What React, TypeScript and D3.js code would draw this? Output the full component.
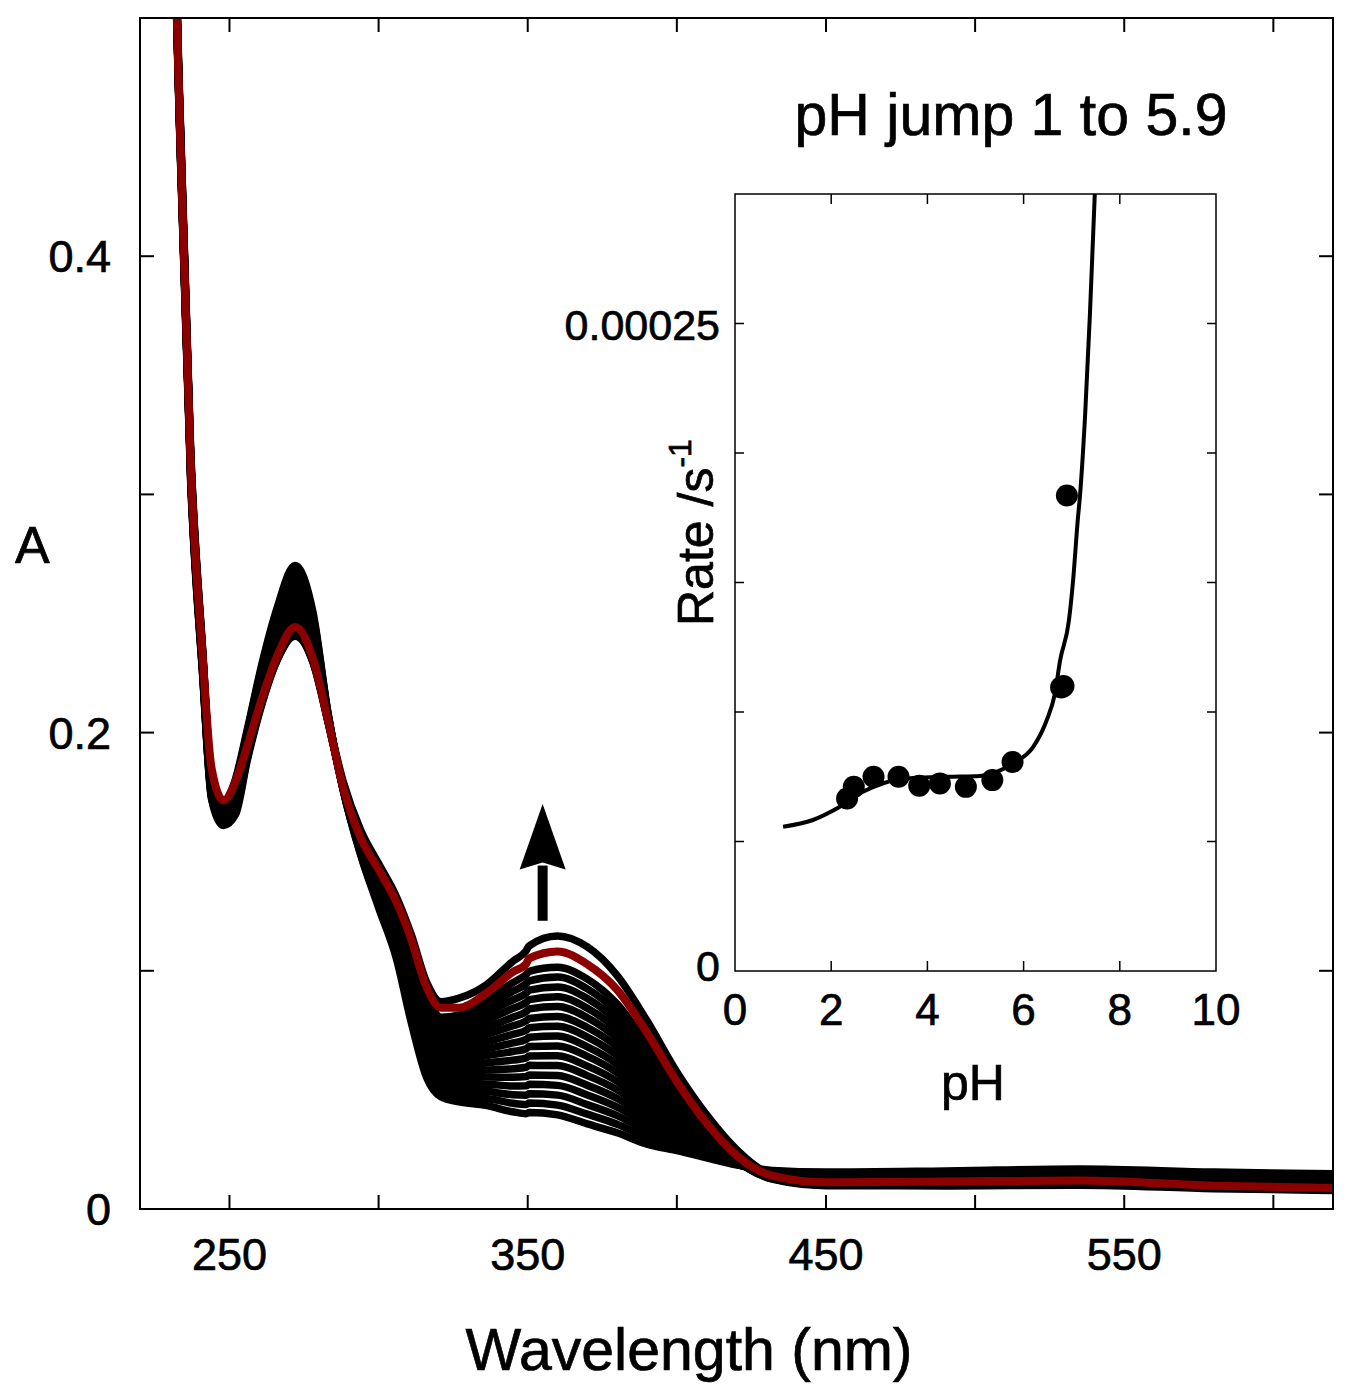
import { useEffect, useRef } from "react";
import * as d3 from "d3";

// wavelength grid of the scans (nm)
const wavelengths = [
  229, 233, 237, 241, 244, 248, 252, 256, 261, 266, 272, 278, 283, 288, 294,
  300, 306, 311, 316, 321, 327, 336, 345, 349.5, 350.5, 360, 370, 380, 390,
  400, 410, 420, 432, 450, 490, 535, 580, 620,
];

// one row per wavelength, one column per black scan
const scanTable = [
  [0.680, 0.678, 0.677, 0.675, 0.673, 0.672, 0.670, 0.668, 0.667, 0.665, 0.663, 0.662, 0.660, 0.658, 0.657, 0.655, 0.658],
  [0.478, 0.477, 0.476, 0.475, 0.475, 0.474, 0.473, 0.472, 0.471, 0.470, 0.469, 0.468, 0.468, 0.467, 0.466, 0.465, 0.468],
  [0.318, 0.317, 0.316, 0.315, 0.315, 0.314, 0.313, 0.312, 0.311, 0.310, 0.309, 0.308, 0.308, 0.307, 0.306, 0.305, 0.308],
  [0.235, 0.234, 0.234, 0.233, 0.232, 0.231, 0.231, 0.230, 0.229, 0.228, 0.228, 0.227, 0.226, 0.225, 0.225, 0.224, 0.227],
  [0.181, 0.1804, 0.1798, 0.1792, 0.1786, 0.178, 0.1774, 0.1768, 0.1762, 0.1756, 0.175, 0.1744, 0.1738, 0.1732, 0.1726, 0.172, 0.176],
  [0.1695, 0.1689, 0.1684, 0.1678, 0.1672, 0.1667, 0.1661, 0.1655, 0.165, 0.1644, 0.1638, 0.1633, 0.1627, 0.1621, 0.1616, 0.161, 0.1625],
  [0.1805, 0.1795, 0.1785, 0.1775, 0.1765, 0.1755, 0.1745, 0.1735, 0.1725, 0.1715, 0.1705, 0.1695, 0.1685, 0.1675, 0.1665, 0.1655, 0.168],
  [0.2015, 0.2006, 0.1998, 0.1989, 0.198, 0.1972, 0.1963, 0.1954, 0.1946, 0.1937, 0.1928, 0.192, 0.1911, 0.1902, 0.1894, 0.1885, 0.19],
  [0.2295, 0.2284, 0.2272, 0.2261, 0.225, 0.2238, 0.2227, 0.2216, 0.2204, 0.2193, 0.2182, 0.217, 0.2159, 0.2148, 0.2136, 0.2125, 0.213],
  [0.2525, 0.251, 0.2496, 0.2481, 0.2466, 0.2452, 0.2437, 0.2422, 0.2408, 0.2393, 0.2378, 0.2364, 0.2349, 0.2334, 0.232, 0.2305, 0.2305],
  [0.2702, 0.2682, 0.2662, 0.2643, 0.2623, 0.2603, 0.2583, 0.2563, 0.2544, 0.2524, 0.2504, 0.2484, 0.2464, 0.2445, 0.2425, 0.2405, 0.2415],
  [0.2505, 0.2491, 0.2477, 0.2463, 0.2449, 0.2435, 0.2421, 0.2407, 0.2393, 0.2379, 0.2365, 0.2351, 0.2337, 0.2323, 0.2309, 0.2295, 0.2295],
  [0.2085, 0.2082, 0.208, 0.2077, 0.2074, 0.2072, 0.2069, 0.2066, 0.2064, 0.2061, 0.2058, 0.2056, 0.2053, 0.205, 0.2048, 0.2045, 0.2055],
  [0.1765, 0.1766, 0.1768, 0.1769, 0.177, 0.1772, 0.1773, 0.1774, 0.1776, 0.1777, 0.1778, 0.178, 0.1781, 0.1782, 0.1784, 0.1785, 0.18],
  [0.1485, 0.149, 0.1496, 0.1501, 0.1506, 0.1512, 0.1517, 0.1522, 0.1528, 0.1533, 0.1538, 0.1544, 0.1549, 0.1554, 0.156, 0.1565, 0.159],
  [0.1265, 0.1275, 0.1284, 0.1294, 0.1304, 0.1313, 0.1323, 0.1333, 0.1342, 0.1352, 0.1362, 0.1371, 0.1381, 0.1391, 0.14, 0.141, 0.145],
  [0.105, 0.1065, 0.108, 0.1095, 0.111, 0.1125, 0.114, 0.1155, 0.117, 0.1185, 0.12, 0.1215, 0.123, 0.1245, 0.126, 0.1275, 0.131],
  [0.078, 0.0802, 0.0824, 0.0846, 0.0868, 0.089, 0.0912, 0.0934, 0.0956, 0.0978, 0.1, 0.1022, 0.1044, 0.1066, 0.1088, 0.111, 0.115],
  [0.0555, 0.0578, 0.0602, 0.0625, 0.0648, 0.0672, 0.0695, 0.0718, 0.0742, 0.0765, 0.0788, 0.0812, 0.0835, 0.0858, 0.0882, 0.0905, 0.0955],
  [0.047, 0.0492, 0.0515, 0.0537, 0.0559, 0.0582, 0.0604, 0.0626, 0.0649, 0.0671, 0.0693, 0.0716, 0.0738, 0.076, 0.0783, 0.0805, 0.087],
  [0.045, 0.0474, 0.0499, 0.0523, 0.0547, 0.0572, 0.0596, 0.062, 0.0645, 0.0669, 0.0693, 0.0718, 0.0742, 0.0766, 0.0791, 0.0815, 0.0885],
  [0.0435, 0.0465, 0.0494, 0.0524, 0.0554, 0.0583, 0.0613, 0.0643, 0.0672, 0.0702, 0.0732, 0.0761, 0.0791, 0.0821, 0.085, 0.088, 0.094],
  [0.0408, 0.0444, 0.048, 0.0516, 0.0553, 0.0589, 0.0625, 0.0661, 0.0697, 0.0733, 0.0769, 0.0805, 0.0842, 0.0878, 0.0914, 0.095, 0.104],
  [0.04, 0.0439, 0.0478, 0.0517, 0.0556, 0.0595, 0.0634, 0.0673, 0.0712, 0.0751, 0.079, 0.0829, 0.0868, 0.0907, 0.0946, 0.0985, 0.1085],
  [0.0405, 0.0445, 0.0484, 0.0524, 0.0563, 0.0603, 0.0642, 0.0682, 0.0721, 0.0761, 0.08, 0.084, 0.0879, 0.0919, 0.0958, 0.0998, 0.1105],
  [0.0395, 0.0436, 0.0478, 0.0519, 0.056, 0.0602, 0.0643, 0.0684, 0.0726, 0.0767, 0.0808, 0.085, 0.0891, 0.0932, 0.0974, 0.1015, 0.1146],
  [0.0357, 0.0398, 0.0438, 0.0479, 0.0519, 0.056, 0.06, 0.0641, 0.0681, 0.0722, 0.0762, 0.0803, 0.0843, 0.0884, 0.0924, 0.0965, 0.11],
  [0.032, 0.0356, 0.0392, 0.0428, 0.0464, 0.05, 0.0536, 0.0572, 0.0608, 0.0644, 0.068, 0.0716, 0.0752, 0.0788, 0.0824, 0.086, 0.098],
  [0.0272, 0.03, 0.0328, 0.0356, 0.0383, 0.0411, 0.0439, 0.0467, 0.0495, 0.0523, 0.0551, 0.0579, 0.0606, 0.0634, 0.0662, 0.069, 0.079],
  [0.0245, 0.0261, 0.0278, 0.0294, 0.031, 0.0327, 0.0343, 0.0359, 0.0376, 0.0392, 0.0408, 0.0425, 0.0441, 0.0457, 0.0474, 0.049, 0.0575],
  [0.0215, 0.0223, 0.023, 0.0238, 0.0246, 0.0253, 0.0261, 0.0269, 0.0276, 0.0284, 0.0292, 0.0299, 0.0307, 0.0315, 0.0322, 0.033, 0.0395],
  [0.0185, 0.0186, 0.0188, 0.0189, 0.019, 0.0192, 0.0193, 0.0194, 0.0196, 0.0197, 0.0198, 0.02, 0.0201, 0.0202, 0.0204, 0.0205, 0.025],
  [0.0162, 0.016, 0.0157, 0.0155, 0.0152, 0.015, 0.0147, 0.0145, 0.0142, 0.014, 0.0137, 0.0135, 0.0132, 0.013, 0.0127, 0.0125, 0.0145],
  [0.0155, 0.0151, 0.0147, 0.0144, 0.014, 0.0136, 0.0132, 0.0128, 0.0125, 0.0121, 0.0117, 0.0113, 0.0109, 0.0106, 0.0102, 0.0098, 0.0117],
  [0.016, 0.0156, 0.0152, 0.0147, 0.0143, 0.0139, 0.0135, 0.0131, 0.0126, 0.0122, 0.0118, 0.0114, 0.011, 0.0105, 0.0101, 0.0097, 0.0117],
  [0.0168, 0.0163, 0.0159, 0.0154, 0.015, 0.0145, 0.0141, 0.0136, 0.0132, 0.0127, 0.0123, 0.0118, 0.0114, 0.0109, 0.0105, 0.01, 0.0123],
  [0.0155, 0.015, 0.0146, 0.0141, 0.0136, 0.0132, 0.0127, 0.0122, 0.0118, 0.0113, 0.0108, 0.0104, 0.0099, 0.0094, 0.009, 0.0085, 0.0097],
  [0.0148, 0.0143, 0.0139, 0.0134, 0.0129, 0.0125, 0.012, 0.0115, 0.0111, 0.0106, 0.0101, 0.0097, 0.0092, 0.0087, 0.0083, 0.0078, 0.009],
];

// the red scan
const finalScan = [
  0.66, 0.471, 0.312, 0.232, 0.185, 0.1715, 0.1795, 0.1945, 0.2148, 0.2322,
  0.2443, 0.231, 0.2052, 0.1775, 0.1558, 0.1425, 0.1288, 0.113, 0.0933, 0.0845,
  0.0845, 0.0905, 0.0995, 0.103, 0.1052, 0.1081, 0.1027, 0.092, 0.074, 0.0534,
  0.036, 0.0225, 0.014, 0.0112, 0.0115, 0.012, 0.0098, 0.0088,
];

const xTicks = [250, 300, 350, 400, 450, 500, 550, 600];
const xTickLabels = [250, 350, 450, 550];
const yTicks = [0.1, 0.2, 0.3, 0.4];
const yTickLabels = [0, 0.2, 0.4];

// inset: measured rates
const phValues = [2.33, 2.47, 2.88, 3.4, 3.83, 4.26, 4.8, 5.35, 5.77, 6.78, 6.83, 6.9];
const rateValues = [
  6.66e-5, 7.11e-5, 7.5e-5, 7.5e-5, 7.15e-5, 7.24e-5, 7.11e-5, 7.37e-5, 8.07e-5,
  1.095e-4, 1.1e-4, 1.836e-4,
];
// inset: fitted curve
const fitPh = [1.0, 1.62, 2.18, 2.66, 3.08, 3.7, 4.41, 5.09, 5.78, 6.2, 6.48, 6.65, 6.76, 6.94, 7.03, 7.13, 7.17, 7.28, 7.38, 7.48];
const fitRate = [
  5.57e-5, 5.83e-5, 6.34e-5, 6.92e-5, 7.25e-5, 7.45e-5, 7.5e-5, 7.53e-5, 8.02e-5,
  8.65e-5, 9.68e-5, 1.07e-4, 1.2e-4, 1.35e-4, 1.51e-4, 1.75e-4, 1.83e-4, 2.15e-4,
  2.54e-4, 3.0e-4,
];
const phTicks = [0, 2, 4, 6, 8, 10];
const rateTicks = [5e-5, 1e-4, 1.5e-4, 2e-4, 2.5e-4];

const FONT = "'Liberation Sans', Arial, Helvetica, sans-serif";

export default function App() {
  const svgRef = useRef<SVGSVGElement>(null);

  useEffect(() => {
    if (!svgRef.current) return;
    const svg = d3.select(svgRef.current);
    svg.selectAll("*").remove();

    const left = 140, right = 1333, top = 18, bottom = 1209;
    const x = d3.scaleLinear().domain([220, 620]).range([left, right]);
    const y = d3.scaleLinear().domain([0, 0.5]).range([bottom, top]);

    svg.append("defs")
      .append("clipPath")
      .attr("id", "plot-clip")
      .append("rect")
      .attr("x", left)
      .attr("y", top)
      .attr("width", right - left)
      .attr("height", bottom - top);

    const plot = svg.append("g").attr("clip-path", "url(#plot-clip)");

    const line = d3
      .line<[number, number]>()
      .x(d => x(d[0]))
      .y(d => y(d[1]))
      .curve(d3.curveMonotoneX);

    const nScans = scanTable[0].length;
    for (let j = 0; j < nScans; j++) {
      const pts = wavelengths.map((w, k) => [w, scanTable[k][j]] as [number, number]);
      plot.append("path")
        .attr("d", line(pts))
        .attr("fill", "none")
        .attr("stroke", "#000")
        .attr("stroke-width", 7.5)
        .attr("stroke-linejoin", "round");
    }

    plot.append("path")
      .attr("d", line(wavelengths.map((w, k) => [w, finalScan[k]] as [number, number])))
      .attr("fill", "none")
      .attr("stroke", "#8c0000")
      .attr("stroke-width", 8)
      .attr("stroke-linejoin", "round");

    // frame
    svg.append("rect")
      .attr("x", left).attr("y", top)
      .attr("width", right - left).attr("height", bottom - top)
      .attr("fill", "none").attr("stroke", "#000").attr("stroke-width", 2);

    const tickLen = 14;
    xTicks.forEach(t => {
      svg.append("line").attr("x1", x(t)).attr("x2", x(t))
        .attr("y1", bottom).attr("y2", bottom - tickLen)
        .attr("stroke", "#000").attr("stroke-width", 2);
      svg.append("line").attr("x1", x(t)).attr("x2", x(t))
        .attr("y1", top).attr("y2", top + tickLen)
        .attr("stroke", "#000").attr("stroke-width", 2);
    });
    yTicks.forEach(t => {
      svg.append("line").attr("x1", left).attr("x2", left + tickLen)
        .attr("y1", y(t)).attr("y2", y(t))
        .attr("stroke", "#000").attr("stroke-width", 2);
      svg.append("line").attr("x1", right).attr("x2", right - tickLen)
        .attr("y1", y(t)).attr("y2", y(t))
        .attr("stroke", "#000").attr("stroke-width", 2);
    });

    const label = (sel: d3.Selection<SVGTextElement, unknown, null, undefined>, size: number) =>
      sel.style("font-family", FONT)
        .style("font-size", `${size}px`)
        .attr("fill", "#000")
        .attr("stroke", "#000")
        .attr("stroke-width", 0.7);

    xTickLabels.forEach(t => {
      label(svg.append("text").attr("x", x(t)).attr("y", 1270)
        .attr("text-anchor", "middle"), 45)
        .text(String(t));
    });
    yTickLabels.forEach(t => {
      label(svg.append("text").attr("x", 111).attr("y", y(t) + 16)
        .attr("text-anchor", "end"), 45)
        .text(String(t));
    });

    label(svg.append("text").attr("x", 689).attr("y", 1370)
      .attr("text-anchor", "middle"), 59)
      .text("Wavelength (nm)");
    label(svg.append("text").attr("x", 15).attr("y", 563), 52)
      .text("A");
    label(svg.append("text").attr("x", 1011).attr("y", 135)
      .attr("text-anchor", "middle"), 59)
      .text("pH jump 1 to 5.9");

    // arrow
    const ax = x(355);
    const aTail = y(0.121), aTip = y(0.170), aBase = y(0.1425);
    svg.append("rect")
      .attr("x", ax - 5).attr("y", aBase - 4)
      .attr("width", 10).attr("height", aTail - aBase + 4)
      .attr("fill", "#000");
    svg.append("path")
      .attr("d", `M${ax},${aTip} L${ax + 23},${aBase} L${ax},${aBase - 7} L${ax - 23},${aBase} Z`)
      .attr("fill", "#000");

    // inset
    const il = 735, ir = 1216, it = 194, ib = 971;
    const ix = d3.scaleLinear().domain([0, 10]).range([il, ir]);
    const iy = d3.scaleLinear().domain([0, 3e-4]).range([ib, it]);
    const inset = svg.append("g");

    inset.append("rect")
      .attr("x", il).attr("y", it).attr("width", ir - il).attr("height", ib - it)
      .attr("fill", "none").attr("stroke", "#000").attr("stroke-width", 1.5);

    phTicks.slice(1, -1).forEach(t => {
      inset.append("line").attr("x1", ix(t)).attr("x2", ix(t))
        .attr("y1", ib).attr("y2", ib - 10).attr("stroke", "#000").attr("stroke-width", 1.5);
      inset.append("line").attr("x1", ix(t)).attr("x2", ix(t))
        .attr("y1", it).attr("y2", it + 10).attr("stroke", "#000").attr("stroke-width", 1.5);
    });
    rateTicks.forEach(t => {
      inset.append("line").attr("x1", il).attr("x2", il + 9)
        .attr("y1", iy(t)).attr("y2", iy(t)).attr("stroke", "#000").attr("stroke-width", 1.5);
      inset.append("line").attr("x1", ir).attr("x2", ir - 9)
        .attr("y1", iy(t)).attr("y2", iy(t)).attr("stroke", "#000").attr("stroke-width", 1.5);
    });

    phTicks.forEach(t => {
      label(inset.append("text").attr("x", ix(t)).attr("y", 1025)
        .attr("text-anchor", "middle"), 44)
        .text(String(t));
    });
    label(inset.append("text").attr("x", 720).attr("y", iy(2.5e-4) + 16)
      .attr("text-anchor", "end"), 43)
      .text("0.00025");
    label(inset.append("text").attr("x", 720).attr("y", 981)
      .attr("text-anchor", "end"), 43)
      .text("0");

    label(inset.append("text").attr("x", 973).attr("y", 1100)
      .attr("text-anchor", "middle"), 50)
      .text("pH");

    const rateLabel = label(inset.append("text")
      .attr("transform", "translate(713,626) rotate(-90)"), 50);
    rateLabel.append("tspan").text("Rate /s");
    rateLabel.append("tspan").attr("dy", -22).style("font-size", "32px").text("-1");

    const fitLine = d3
      .line<number>()
      .x((_, i) => ix(fitPh[i]))
      .y(d => iy(d))
      .curve(d3.curveMonotoneX);
    inset.append("path")
      .attr("d", fitLine(fitRate))
      .attr("fill", "none").attr("stroke", "#000").attr("stroke-width", 4);

    inset.selectAll(".pt")
      .data(rateValues)
      .enter()
      .append("circle")
      .attr("cx", (_, i) => ix(phValues[i]))
      .attr("cy", d => iy(d))
      .attr("r", 11)
      .attr("fill", "#000");
  }, []);

  return (
    <svg
      ref={svgRef}
      width={1355}
      height={1397}
      style={{ position: "absolute", left: 0, top: 0, background: "#fff" }}
    />
  );
}
